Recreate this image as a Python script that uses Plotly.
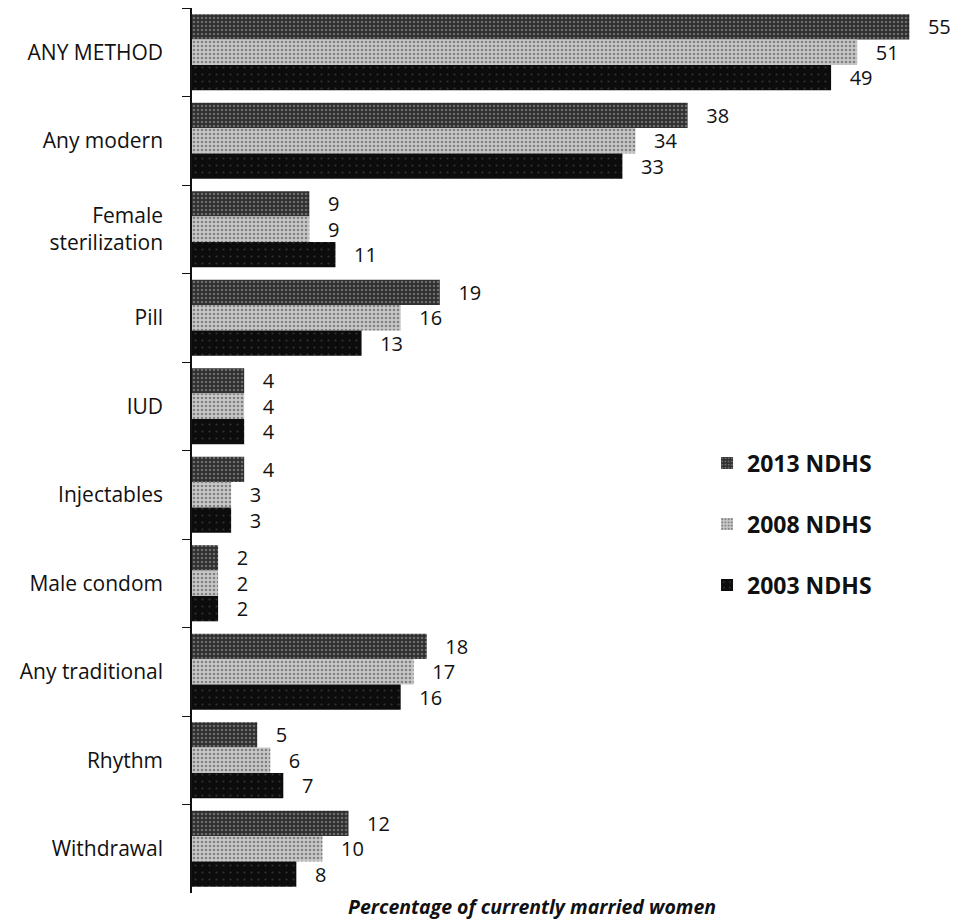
import plotly.graph_objects as go

# Contraceptive use by method, three survey rounds
methods = ["ANY METHOD", "Any modern", "Female<br>sterilization", "Pill", "IUD",
           "Injectables", "Male condom", "Any traditional", "Rhythm", "Withdrawal"]
ndhs_2013 = [55, 38, 9, 19, 4, 4, 2, 18, 5, 12]
ndhs_2008 = [51, 34, 9, 16, 4, 3, 2, 17, 6, 10]
ndhs_2003 = [49, 33, 11, 13, 4, 3, 2, 16, 7, 8]
series_names = ["2013 NDHS", "2008 NDHS", "2003 NDHS"]

font_family = "'Open Sans', sans-serif"

styles = [
    dict(color="#2e2e2e", pattern=dict(shape=".", fgcolor="#a8a8a8", bgcolor="#2e2e2e", size=4, solidity=0.35)),
    dict(color="#bcbcbc", pattern=dict(shape=".", fgcolor="#3a3a3a", bgcolor="#c8c8c8", size=4, solidity=0.35)),
    dict(color="#111111", pattern=dict(shape=".", fgcolor="#555555", bgcolor="#0c0c0c", size=7, solidity=0.08)),
]

fig = go.Figure()
for name, vals, st, grp in zip(series_names, [ndhs_2013, ndhs_2008, ndhs_2003], styles, ["a", "b", "c"]):
    fig.add_trace(go.Bar(
        y=methods, x=vals, name=name, orientation="h",
        marker=dict(color=st["color"], pattern=st["pattern"], line=dict(width=0)),
        text=vals, texttemplate="   %{text}", textposition="outside",
        textfont=dict(size=20, color="#111", family=font_family),
        constraintext="none",
        cliponaxis=False, legendgroup=grp,
    ))

# page has an 8px body margin, so the figure is a little smaller than the window
fig.update_layout(
    width=948, height=914,
    margin=dict(l=184, r=1, t=0, b=29, autoexpand=False),
    paper_bgcolor="white", plot_bgcolor="white",
    barmode="group", bargap=0.14, bargroupgap=0,
    font=dict(family=font_family, size=20, color="#111"),
    legend=dict(x=0.675, y=0.51, xanchor="left", yanchor="top",
                traceorder="grouped", tracegroupgap=28,
                font=dict(size=23, color="#111", family=font_family, weight="bold")),
    xaxis=dict(range=[0, 58.5], showticklabels=False, showgrid=False,
               zeroline=False, showline=False, ticks="", automargin=False),
    yaxis=dict(autorange="reversed", showgrid=False, showline=True,
               linecolor="#111", linewidth=1.5, ticks="outside", ticklen=8,
               tickcolor="#111", tickson="boundaries", ticklabelstandoff=23,
               automargin=False,
               tickfont=dict(size=21, color="#111", family=font_family)),
    annotations=[dict(
        text="<b><i>Percentage of currently married women</i></b>",
        x=0.446, y=-0.0147, xref="paper", yref="paper",
        xanchor="center", yanchor="middle", showarrow=False,
        font=dict(size=19.5, color="#111", family=font_family),
    )],
)

fig.write_html("out.html")
